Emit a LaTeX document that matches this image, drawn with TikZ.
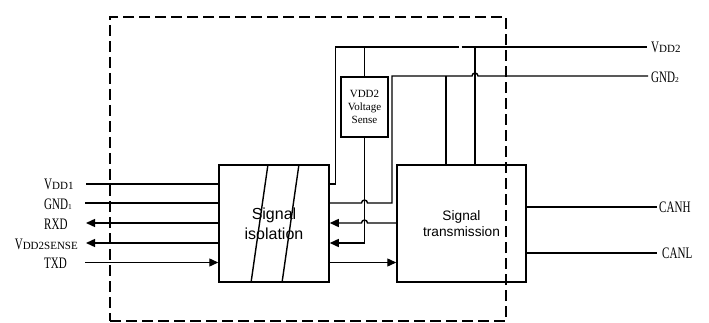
\documentclass[tikz,border=0pt]{standalone}
\usepackage{fontspec}
\setmainfont{Liberation Serif}
\newfontfamily\blockfont{Liberation Sans}
\usetikzlibrary{arrows.meta,positioning}

\newcommand{\pinfont}{\fontsize{16}{16}\selectfont}
\newcommand{\cn}[1]{\scalebox{0.69}[1]{#1}}
\newcommand{\pinsub}[1]{{\fontsize{11}{11}\selectfont #1}}
\newcommand{\pinidx}[1]{{\fontsize{7.5}{7.5}\selectfont #1}}

\begin{document}
\begin{tikzpicture}[
      x=1pt, y=-1pt,
      blk/.style={draw, line width=1.5pt, inner sep=0pt, align=center},
      frame/.style={draw, line width=1.5pt, dash pattern=on 11pt off 5pt},
      lbl/.style={font=\pinfont, inner sep=0pt},
      wire/.style={line width=1.4pt},
      arr/.style={wire, -{Triangle[length=9pt,width=8pt]}}
    ]
    \useasboundingbox (0,0) rectangle (709,323);

    \node[frame, minimum width=396pt, minimum height=304pt] (board) at (308,169) {};

    \node[blk, minimum width=110pt, minimum height=117pt,
      font=\blockfont\fontsize{16}{20}\selectfont] (iso) at (274,223.5) {Signal\\isolation};
    \draw[wire] ([xshift=-6pt]iso.north) -- ([xshift=-23pt]iso.south);
    \draw[wire] ([xshift=25pt]iso.north) -- ([xshift=8pt]iso.south);

    \node[blk, minimum width=129pt, minimum height=117pt,
      font=\blockfont\fontsize{13.7}{16}\selectfont] (trans) at (461.5,223.5) {Signal\\transmission};

    \node[blk, minimum width=47pt, minimum height=60pt,
      font=\fontsize{11}{13}\selectfont] (sense) at (364.5,107) {VDD2\\Voltage\\Sense};

    % pins on the left
    \coordinate (l1) at (86,184);
    \coordinate (l2) at (85,203);
    \coordinate (l3) at (86,223);
    \coordinate (l4) at (86,243);
    \coordinate (l5) at (85,262.5);
    \node[lbl, anchor=west] (vdda) at (44,184.5) {\cn{V}\pinsub{DD1}};
    \node[lbl, anchor=west] (gnda) at (44,204) {\cn{GND}\pinidx{1}};
    \node[lbl, anchor=west] (rxd) at (44,224) {\cn{RXD}};
    \node[lbl, anchor=east] (vsense) at (78,244) {\cn{V}\pinsub{DD2SENSE}};
    \node[lbl, anchor=west] (txd) at (44,263.5) {\cn{TXD}};

    % pins on the right
    \coordinate (vddb) at (647,47);
    \coordinate (gndb) at (648,76);
    \coordinate (canh) at (657,207);
    \coordinate (canl) at (657,253);
    \node[lbl, anchor=west] (vddbl) at (651,47.5) {\cn{V}\pinsub{DD2}};
    \node[lbl, anchor=west] (gndbl) at (651,77) {\cn{GND}\pinidx{2}};
    \node[lbl, anchor=west] (canhl) at (659,207.5) {\cn{CANH}};
    \node[lbl, anchor=west] (canll) at (662,253.5) {\cn{CANL}};

    \coordinate (t1) at (446,76);
    \coordinate (t2) at (475,47);

    \draw[wire] (l1) -- (l1 -| iso.west);
    \draw[wire] (l2) -- (l2 -| iso.west);
    \draw[arr] (l3 -| iso.west) -- (l3);
    \draw[arr] (l4 -| iso.west) -- (l4);
    \draw[arr] (l5) -- (l5 -| iso.west);

    \draw[wire] (iso.east |- l1) -- ++(6,0) |- (458.5,47);
    \draw[wire] (461.5,47) -- (vddb);
    \draw[wire] (sense.north) -- (sense.north |- vddb);
    \draw[arr] (sense.south) |- (iso.east |- l4);
    \draw[wire] (iso.east |- l2) -- (361.5,203) arc[start angle=180, end angle=0, radius=3pt]
      -- (392,203) -- (392,76) -- (472,76) arc[start angle=180, end angle=0, radius=3pt] -- (gndb);
    \draw[arr] (trans.west |- l3) -- (367.5,223) arc[start angle=0, end angle=180, radius=3pt]
      -- (iso.east |- l3);
    \draw[arr] (iso.east |- l5) -- (trans.west |- l5);

    \draw[wire] (t1) -- (t1 |- trans.north);
    \draw[wire] (t2) -- (t2 |- trans.north);

    \draw[wire] (trans.east |- canh) -- (canh);
    \draw[wire] (trans.east |- canl) -- (canl);
  \end{tikzpicture}
\end{document}
